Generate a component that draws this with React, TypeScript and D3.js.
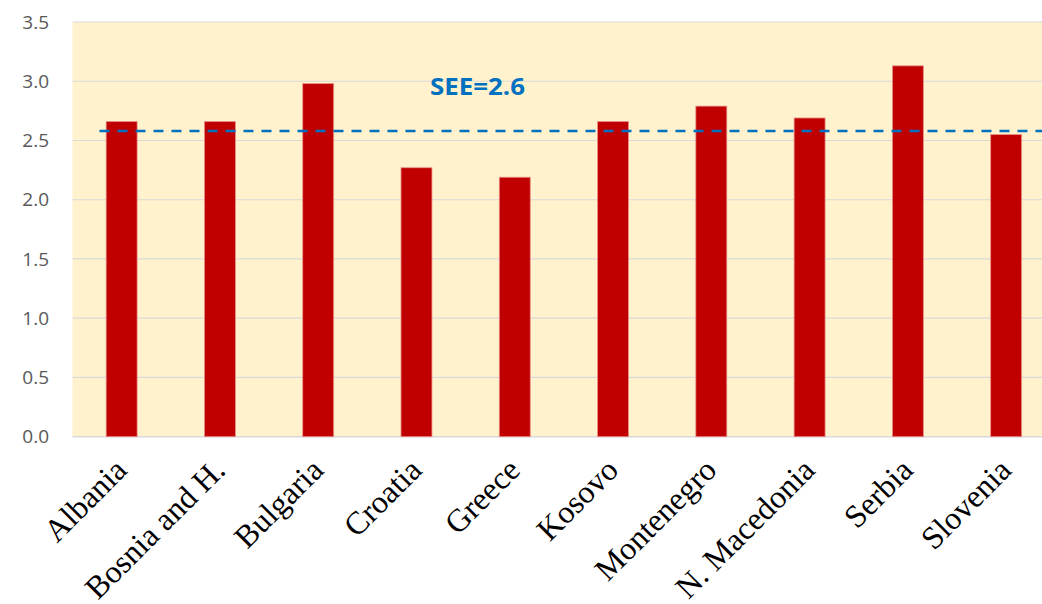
import React from "react";
import * as d3 from "d3";

const categories = ["Albania", "Bosnia and H.", "Bulgaria", "Croatia", "Greece", "Kosovo", "Montenegro", "N. Macedonia", "Serbia", "Slovenia"];
const values = [2.66, 2.66, 2.98, 2.27, 2.19, 2.66, 2.79, 2.69, 3.13, 2.55];
const average = 2.58;
const averageLabel = "SEE=2.6";
const yTicks = [0, 0.5, 1.0, 1.5, 2.0, 2.5, 3.0, 3.5];

const W = 1042;
const H = 604;
const left = 72.5;
const right = 1055.3;
const top = 22;
const bottom = 436.7;

export default function App() {
  const x = d3.scaleBand<string>().domain(categories).range([left, right]).paddingInner(0.685).paddingOuter(0.3425);
  const y = d3.scaleLinear().domain([0, 3.5]).range([bottom, top]);
  const bw = x.bandwidth();
  return (
    <svg width={W} height={H} style={{ position: "absolute", left: 0, top: 0, display: "block" }}>
      <rect x={left} y={top} width={right - left} height={bottom - top} fill="#FFF2CC" />
      {yTicks.map((t) => (
        <line key={t} x1={left} x2={right} y1={y(t)} y2={y(t)} stroke="#D9D9D9" strokeWidth={t === 0 ? 1.5 : 1.2} />
      ))}
      {yTicks.map((t) => (
        <text key={"l" + t} x={49} y={y(t)} dy="0.35em" textAnchor="end" fontFamily="'Open Sans', sans-serif" fontSize={19} fill="#595959">
          {d3.format(".1f")(t)}
        </text>
      ))}
      {categories.map((c, i) => (
        <rect key={c} x={x(c)!} y={y(values[i])} width={bw} height={y(0) - y(values[i])} fill="#C00000" stroke="#E8908A" strokeWidth={0.8} />
      ))}
      <line x1={left + 27} x2={W} y1={y(average)} y2={y(average)} stroke="#0070C0" strokeWidth={2.5} strokeDasharray="10 8" />
      <text x={430} y={95} fontFamily="'Open Sans', sans-serif" fontWeight="bold" fontSize={24} fill="#0070C0" textLength={95} lengthAdjust="spacingAndGlyphs">
        {averageLabel}
      </text>
      {categories.map((c) => {
        const cx = x(c)! + bw / 2 + 7;
        const cy = 472;
        return (
          <text key={"x" + c} x={cx} y={cy} transform={`rotate(-45 ${cx} ${cy})`} textAnchor="end" fontFamily="'Liberation Serif', 'Times New Roman', serif" fontSize={32} fill="#000">
            {c}
          </text>
        );
      })}
    </svg>
  );
}
